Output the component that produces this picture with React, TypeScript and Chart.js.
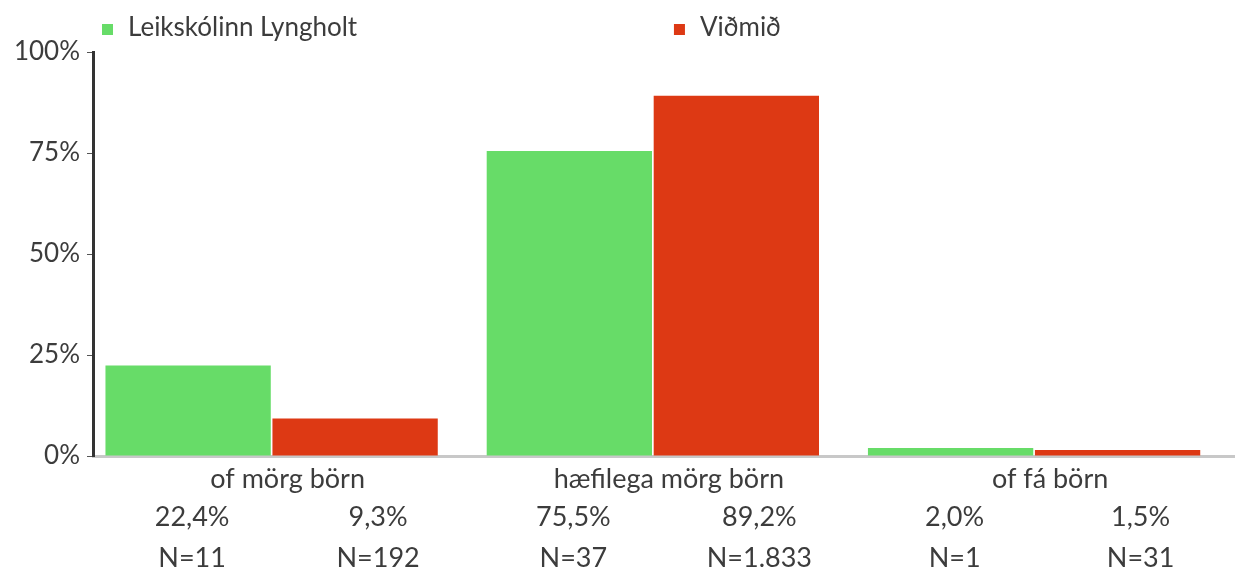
import React, { useEffect, useRef } from 'react';
import { Chart, registerables } from 'chart.js';

Chart.register(...registerables);

const categories = ['of mörg börn', 'hæfilega mörg börn', 'of fá börn'];
const seriesNames = ['Leikskólinn Lyngholt', 'Viðmið'];
const schoolValues = [22.4, 75.5, 2.0];
const benchmarkValues = [9.3, 89.2, 1.5];
const schoolCounts = ['N=11', 'N=37', 'N=1'];
const benchmarkCounts = ['N=192', 'N=1.833', 'N=31'];
const yTickValues = [0, 25, 50, 75, 100];

const GREEN = '#67dc68';
const RED = '#dd3914';
const TEXT = '#3c3c3c';
const FONT = 'Lato';

const fmtPct = (v: number) => v.toFixed(1).replace('.', ',') + '%';

const legendPlugin = {
  id: 'customLegend',
  afterDraw(chart: any) {
    const ctx = chart.ctx;
    const xs = [chart.chartArea.left + 9, chart.width * 0.5457];
    ctx.save();
    ctx.font = `26px ${FONT}`;
    ctx.textBaseline = 'middle';
    ctx.textAlign = 'left';
    chart.data.datasets.forEach((ds: any, i: number) => {
      const x = xs[i];
      ctx.fillStyle = ds.backgroundColor;
      ctx.fillRect(x, 24, 11, 11);
      ctx.fillStyle = TEXT;
      ctx.fillText(ds.label, x + 26, 28);
    });
    ctx.restore();
  },
};

const barLabelPlugin = {
  id: 'barLabels',
  afterDraw(chart: any) {
    const ctx = chart.ctx;
    const bottom = chart.chartArea.bottom;
    const counts = [schoolCounts, benchmarkCounts];
    const offsets = [4, 23];
    ctx.save();
    ctx.font = `27px ${FONT}`;
    ctx.textBaseline = 'middle';
    ctx.textAlign = 'center';
    ctx.fillStyle = TEXT;
    chart.data.datasets.forEach((ds: any, i: number) => {
      const meta = chart.getDatasetMeta(i);
      meta.data.forEach((bar: any, j: number) => {
        const x = bar.x + offsets[i];
        ctx.fillText(fmtPct(ds.data[j].y), x, bottom + 61);
        ctx.fillText(counts[i][j], x, bottom + 102);
      });
    });
    ctx.restore();
  },
};

export default function App() {
  const ref = useRef<HTMLCanvasElement>(null);
  useEffect(() => {
    document.body.style.margin = '0';
    if (!ref.current) return;
    const chart = new Chart(ref.current, {
      type: 'bar',
      data: {
        datasets: [
          {
            label: seriesNames[0],
            data: schoolValues.map((v, i) => ({ x: i, y: v })),
            backgroundColor: GREEN,
          },
          {
            label: seriesNames[1],
            data: benchmarkValues.map((v, i) => ({ x: i, y: v })),
            backgroundColor: RED,
          },
        ],
      },
      options: {
        animation: false,
        responsive: false,
        devicePixelRatio: 1,
        layout: { padding: { top: 52, left: 0, right: 0, bottom: 0 } },
        datasets: { bar: { categoryPercentage: 0.876, barPercentage: 0.99 } },
        plugins: { legend: { display: false }, tooltip: { enabled: false } },
        scales: {
          x: {
            type: 'linear',
            offset: false,
            bounds: 'data',
            min: -0.4685,
            max: 2.527,
            afterBuildTicks: (scale: any) => {
              scale.ticks = categories.map((_, i) => ({ value: i }));
            },
            afterFit: (scale: any) => {
              scale.height = 114;
            },
            grid: { display: false, drawTicks: false, offset: false },
            border: { display: true, color: '#c8c8c8', width: 3 },
            ticks: {
              autoSkip: false,
              maxRotation: 0,
              padding: 7,
              labelOffset: 16,
              color: TEXT,
              font: { family: FONT, size: 27 },
              callback: (v: any) => categories[Math.round(Number(v))] ?? '',
            },
          },
          y: {
            min: 0,
            max: 100,
            afterBuildTicks: (scale: any) => {
              scale.ticks = yTickValues.map((v) => ({ value: v }));
            },
            afterFit: (scale: any) => {
              scale.width = 93;
            },
            grid: {
              display: true,
              drawOnChartArea: false,
              drawTicks: true,
              tickLength: 6,
              tickColor: '#555',
              tickWidth: 1,
            },
            border: { display: true, color: '#333', width: 3 },
            ticks: {
              padding: 7,
              color: TEXT,
              font: { family: FONT, size: 26 },
              callback: (v: any) => `${v}%`,
            },
          },
        },
      },
      plugins: [legendPlugin, barLabelPlugin],
    } as any);
    return () => chart.destroy();
  }, []);
  return <canvas ref={ref} width={1235} height={570} style={{ display: 'block' }} />;
}
